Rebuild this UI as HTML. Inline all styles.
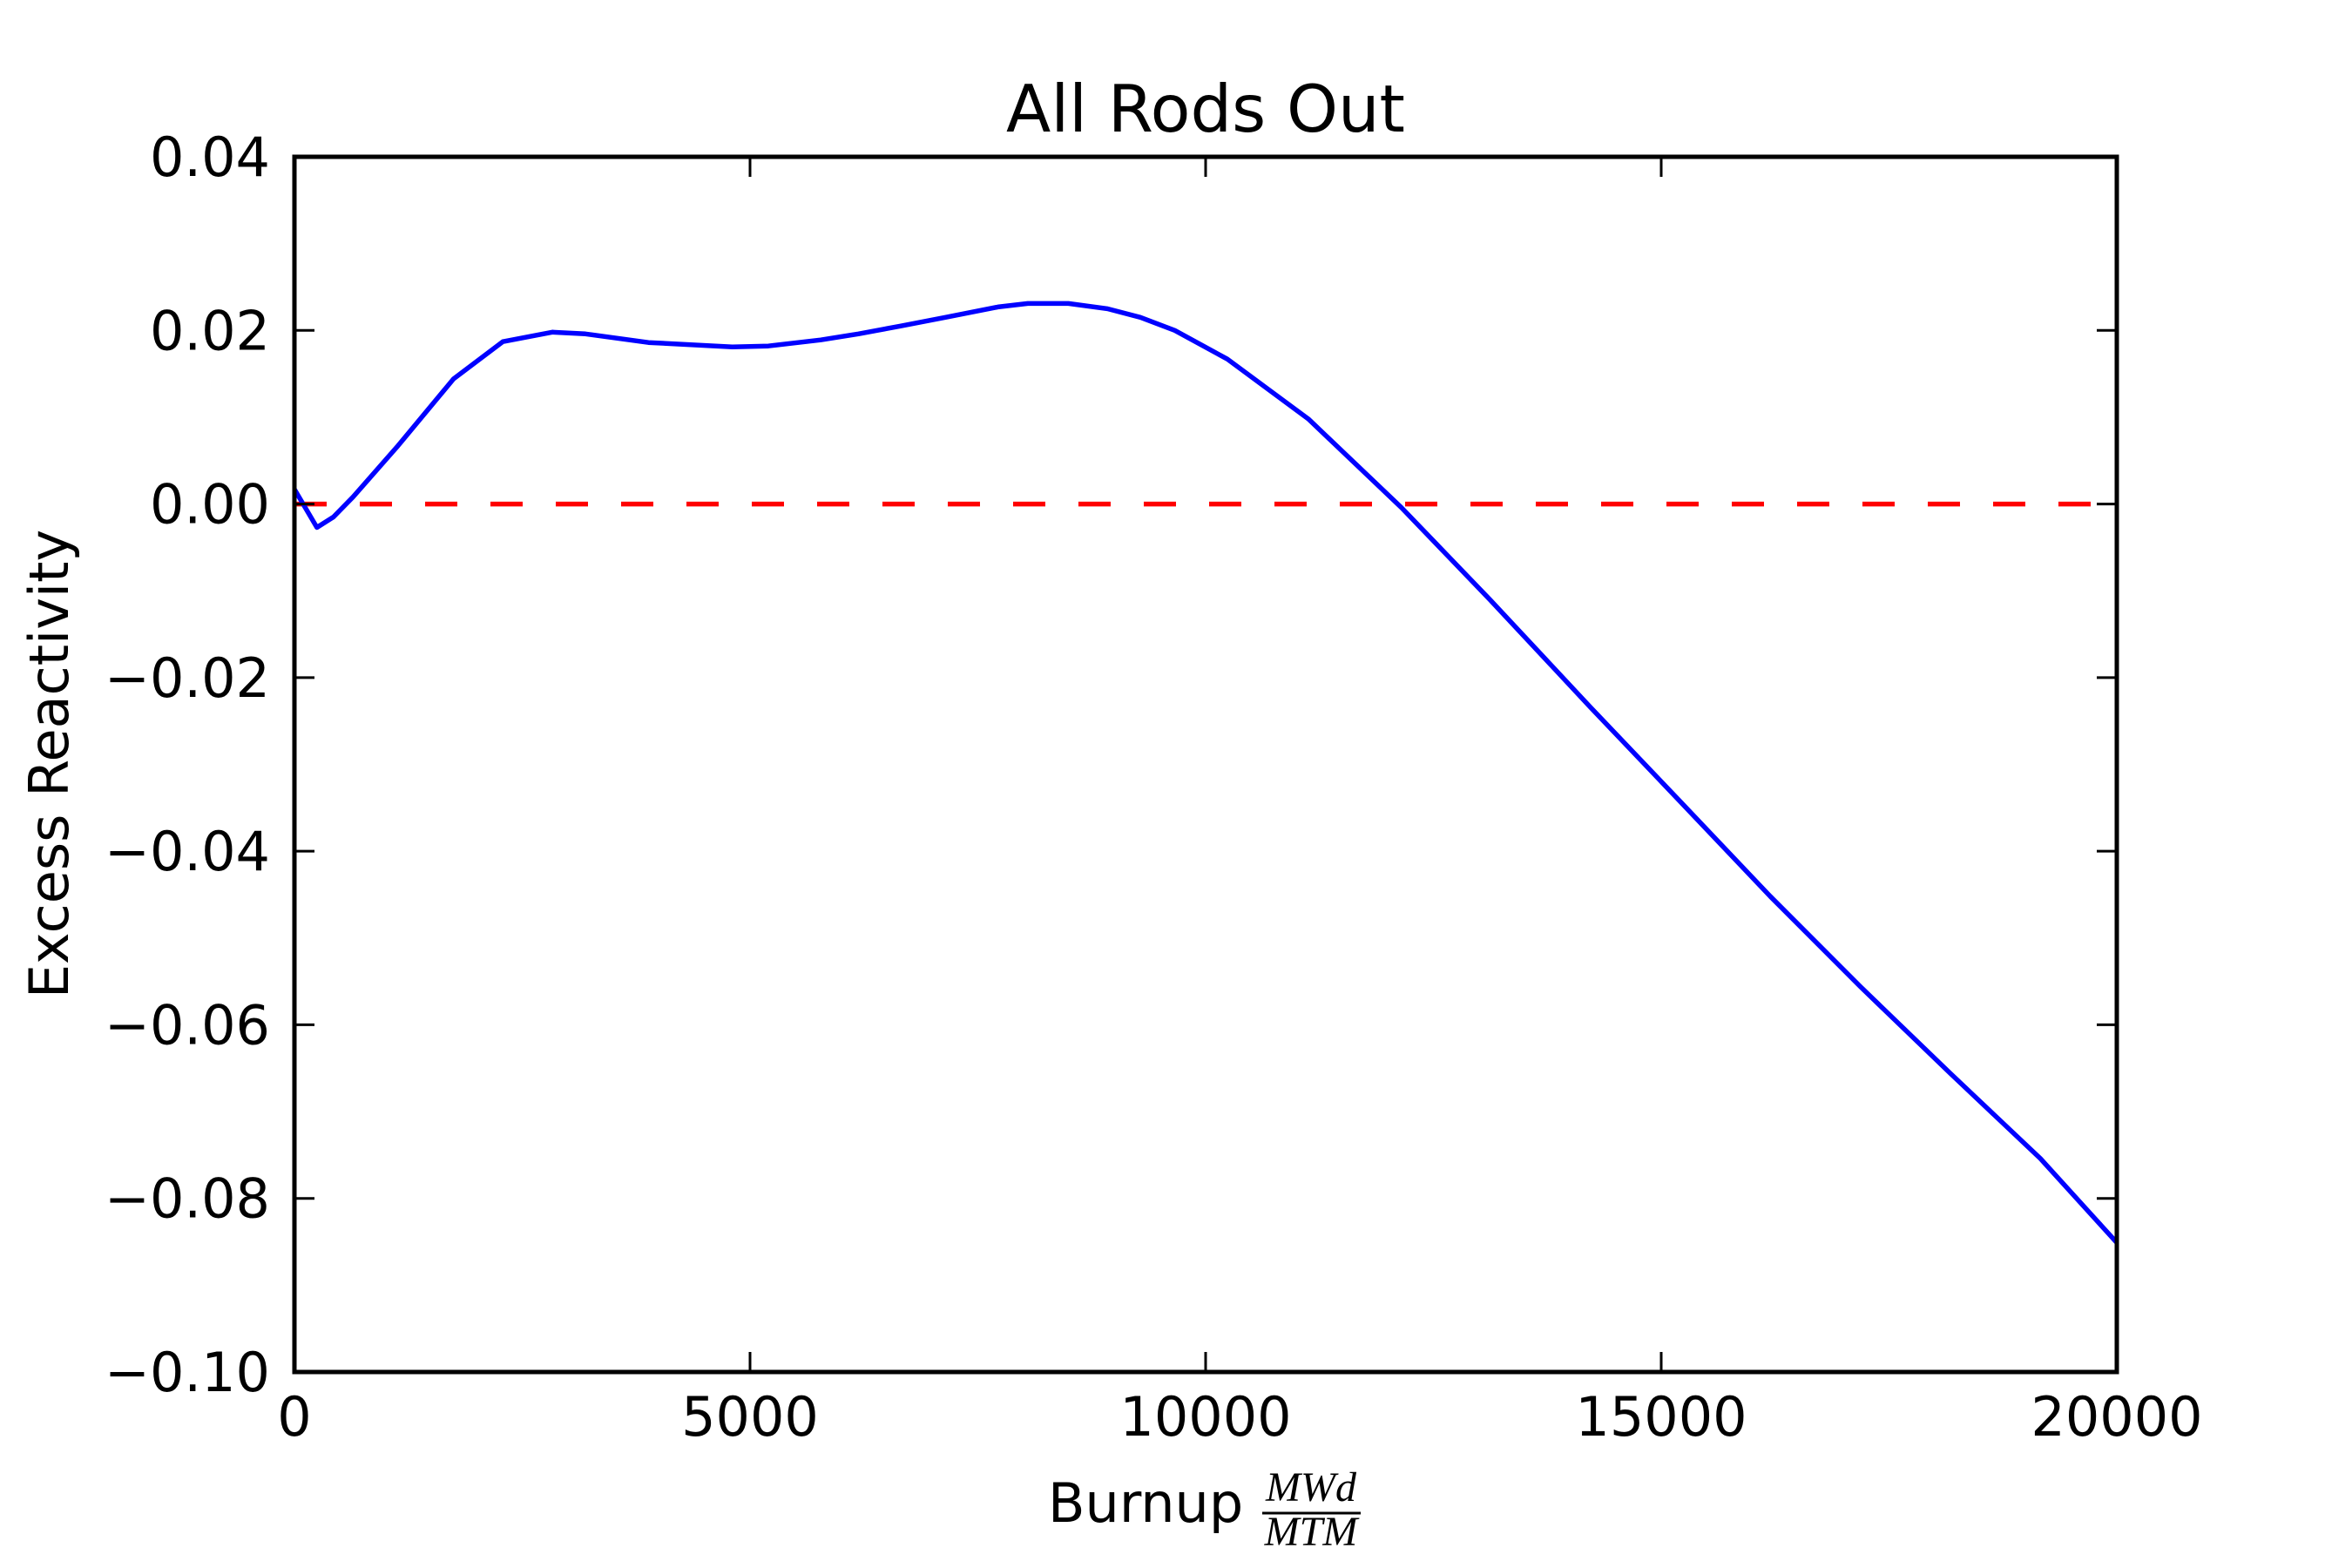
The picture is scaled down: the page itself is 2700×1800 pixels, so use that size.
<!DOCTYPE html>
<html><head><meta charset="utf-8"><style>
html,body{margin:0;padding:0;background:#fff;}
svg{display:block;}
text{font-family:"DejaVu Sans","Liberation Sans",sans-serif;fill:#000;}
</style></head><body>
<svg id="chart" width="2700" height="1800" viewBox="0 0 2700 1800" xmlns="http://www.w3.org/2000/svg">
<rect width="2700" height="1800" fill="#fff"/>
<text x="1384" y="151" font-size="75" text-anchor="middle">All Rods Out</text>
<g id="marks"></g>
<g id="axes"></g>
<text transform="translate(78,877) rotate(-90)" font-size="62" text-anchor="middle">Excess Reactivity</text>
<g>
<text x="1203" y="1747" font-size="62">Burnup</text>
<text x="1505" y="1723" font-size="48" font-style="italic" text-anchor="middle" style="font-family:'Liberation Serif','DejaVu Serif',serif">MWd</text>
<line x1="1449" y1="1737" x2="1562" y2="1737" stroke="#000" stroke-width="3"/>
<text x="1505" y="1774" font-size="48" font-style="italic" text-anchor="middle" style="font-family:'Liberation Serif','DejaVu Serif',serif">MTM</text>
</g>
</svg>
<script>
const burnup = [0,247,428,642,1136,1745,2288,2831,3193,3885,4806,5201,5777,6189,6650,7144,7720,8049,8494,8921,9284,9662,10238,11127,12148,13119,14222,15210,16197,17185,18173,19161,20000];
const reactivity = [0.0017,-0.0027,-0.0015,0.0008,0.0067,0.0144,0.0187,0.0198,0.0196,0.0186,0.0181,0.0182,0.0189,0.0196,0.0205,0.0215,0.0227,0.0231,0.0231,0.0225,0.0215,0.0200,0.0167,0.0098,-0.0004,-0.0110,-0.0234,-0.0343,-0.0452,-0.0556,-0.0656,-0.0754,-0.0851];
const referenceLevel = [0, 0];
const referenceRange = [0, 19750];
const xTicks = [0,5000,10000,15000,20000];
const xTickLabels = ["0","5000","10000","15000","20000"];
const yTicks = [0.04,0.02,0,-0.02,-0.04,-0.06,-0.08,-0.10];
const yTickLabels = ["0.04","0.02","0.00","\u22120.02","\u22120.04","\u22120.06","\u22120.08","\u22120.10"];

const L=338,R=2430,T=180,B=1575;
const xMin=0,xMax=20000,yMin=-0.10,yMax=0.04;
function sx(v){return L+(v-xMin)/(xMax-xMin)*(R-L);}
function sy(v){return B-(v-yMin)/(yMax-yMin)*(B-T);}
const NS="http://www.w3.org/2000/svg";
const marks=document.getElementById('marks');
const axes=document.getElementById('axes');

const ref=document.createElementNS(NS,'line');
ref.setAttribute('x1',sx(referenceRange[0]));ref.setAttribute('x2',sx(referenceRange[1]));
ref.setAttribute('y1',sy(referenceLevel[0]));ref.setAttribute('y2',sy(referenceLevel[1]));
ref.setAttribute('stroke','#ff0000');ref.setAttribute('stroke-width','5.5');ref.setAttribute('stroke-dasharray','37 38');


marks.appendChild(ref);

const line=document.createElementNS(NS,'polyline');
line.setAttribute('points',burnup.map((b,i)=>sx(b).toFixed(1)+','+sy(reactivity[i]).toFixed(1)).join(' '));
line.setAttribute('fill','none');line.setAttribute('stroke','#0000ff');line.setAttribute('stroke-width','5.5');line.setAttribute('stroke-linejoin','round');


marks.appendChild(line);

const frame=document.createElementNS(NS,'rect');
frame.setAttribute('x',L);frame.setAttribute('y',T);frame.setAttribute('width',R-L);frame.setAttribute('height',B-T);
frame.setAttribute('fill','none');frame.setAttribute('stroke','#000');frame.setAttribute('stroke-width','5');


axes.appendChild(frame);

function tick(x1,y1,x2,y2,name){
  const t=document.createElementNS(NS,'line');
  t.setAttribute('x1',x1);t.setAttribute('y1',y1);t.setAttribute('x2',x2);t.setAttribute('y2',y2);
  t.setAttribute('stroke','#000');t.setAttribute('stroke-width','3');
  
  
  axes.appendChild(t);
}
xTicks.forEach((v,i)=>{
  const x=sx(v);
  tick(x,B,x,B-23,'x-tick');
  tick(x,T,x,T+23,'x-tick-top');
  const tx=document.createElementNS(NS,'text');
  tx.setAttribute('x',x);tx.setAttribute('y',1648);tx.setAttribute('font-size','62');tx.setAttribute('text-anchor','middle');
  tx.textContent=xTickLabels[i];
  
  
  axes.appendChild(tx);
});
yTicks.forEach((v,i)=>{
  const y=sy(v);
  tick(L,y,L+23,y,'y-tick');
  tick(R,y,R-23,y,'y-tick-right');
  const ty=document.createElementNS(NS,'text');
  ty.setAttribute('x',310);ty.setAttribute('y',y+22);ty.setAttribute('font-size','62');ty.setAttribute('text-anchor','end');
  ty.textContent=yTickLabels[i];
  
  
  axes.appendChild(ty);
});
</script>
</body></html>
